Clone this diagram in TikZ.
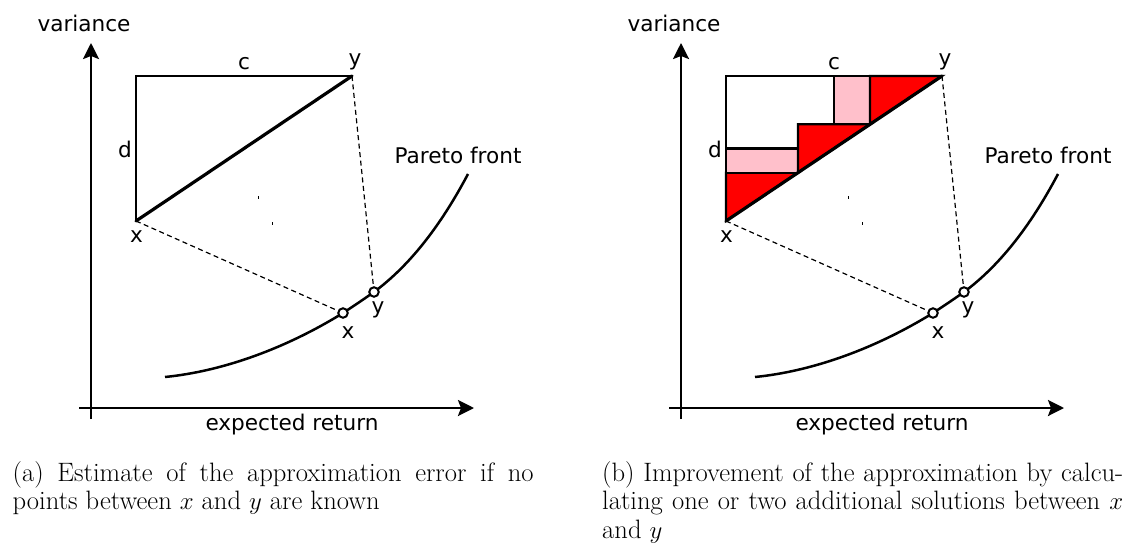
\documentclass[tikz,border=0pt]{standalone}
\usepackage{fontspec}
\newfontfamily\dejavu{DejaVu Sans}
\usetikzlibrary{arrows.meta}
\definecolor{pinkfill}{RGB}{255,192,203}
\definecolor{redfill}{RGB}{255,0,0}
\begin{document}
\begin{tikzpicture}[x=1pt,y=-1pt,
  lbl/.style={font=\dejavu\fontsize{21.6}{26}\selectfont, inner sep=0pt, anchor=base},
  axisline/.style={line width=2.6pt, -{Stealth[length=16pt,width=16pt,inset=3pt]}},
  boxline/.style={line width=2.2pt},
  diagline/.style={line width=3.2pt, line cap=round},
  frontline/.style={line width=2.5pt},
  dashline/.style={line width=1.2pt, dash pattern=on 5pt off 3.5pt},
  ptcircle/.style={circle, draw, fill=white, line width=2pt, minimum size=9.5pt, inner sep=0pt},
  redstep/.style={fill=redfill, draw=black, line width=2.2pt, line join=miter},
  pinkstep/.style={fill=pinkfill, draw=black, line width=2.2pt},
  capt/.style={inner sep=0pt, anchor=base west, font=\fontsize{26.6}{28.6}\selectfont}
]
\useasboundingbox (0,0) rectangle (1123,543);

% fills of panel (b)
\begin{scope}[xshift=590]
  \filldraw[redstep] (136,221) -- (136,172.7) -- (208,172.7) -- cycle;
  \filldraw[pinkstep] (136,148.5) rectangle (208,172.7);
  \filldraw[redstep] (208,172.7) -- (208,124.3) -- (280,124.3) -- cycle;
  \filldraw[pinkstep] (244,76) rectangle (280,124.3);
  \filldraw[redstep] (280,124.3) -- (280,76) -- (352,76) -- cycle;
\end{scope}

\foreach \p/\dx in {L/0,R/590}{
\begin{scope}[xshift=\dx]
  % axes
  \coordinate (\p yb) at (91,419);
  \coordinate (\p yt) at (91,43);
  \coordinate (\p xl) at (79,408);
  \coordinate (\p xr) at (474,408);
  \draw[axisline] (\p yb) -- (\p yt);
  \draw[axisline] (\p xl) -- (\p xr);
  \node[lbl] (\p var) at (84,32) {variance};
  \node[lbl] (\p ret) at (292,430) {expected return};
  % box
  \coordinate (\p A) at (136,76);
  \coordinate (\p X) at (136,221);
  \coordinate (\p Y) at (352,76);
  \draw[boxline] (\p X) -- (\p A) -- (\p Y);
  \draw[diagline] (\p X) -- (\p Y);
  \node[lbl] (\p c) at (244,70) {c};
  \node[lbl] (\p d) at (125,157) {d};
  \node[lbl] (\p xu) at (136.5,242) {x};
  \node[lbl] (\p yu) at (355,65) {y};
  % tiny marks
  \fill (257.5,195.5) rectangle (258.5,198.5);
  \fill (271.5,221.5) rectangle (272.5,224.5);
  % Pareto front
  \coordinate (\p f0) at (165,377);
  \coordinate (\p f1) at (343,313);
  \coordinate (\p f2) at (374,292);
  \coordinate (\p f3) at (468,174);
  \draw[frontline] (\p f0) .. controls (225,371) and (288,347) .. (\p f1)
     .. controls (353,306.5) and (364,299) .. (\p f2)
     .. controls (409,266) and (440,227) .. (\p f3);
  \node[lbl] (\p pf) at (458,163) {Pareto front};
  \node[ptcircle] (\p cx) at (\p f1) {};
  \node[ptcircle] (\p cy) at (\p f2) {};
  \draw[dashline] (\p X) -- (\p cx);
  \draw[dashline] (\p Y) -- (\p cy);
  \node[lbl] (\p xl2) at (348,338) {x};
  \node[lbl] (\p yl2) at (378,313) {y};
\end{scope}
}

\node[capt] (capa) at (12.5,481) {\parbox[t]{521pt}{\makebox[521pt][s]{(a) Estimate of the approximation error if no}\\points between $x$ and $y$ are known}};
\node[capt] (capb) at (602,481) {\parbox[t]{521pt}{\makebox[521pt][s]{(b) Improvement of the approximation by calcu-}\\\makebox[521pt][s]{lating one or two additional solutions between $x$}\\and $y$}};
\end{tikzpicture}
\end{document}
